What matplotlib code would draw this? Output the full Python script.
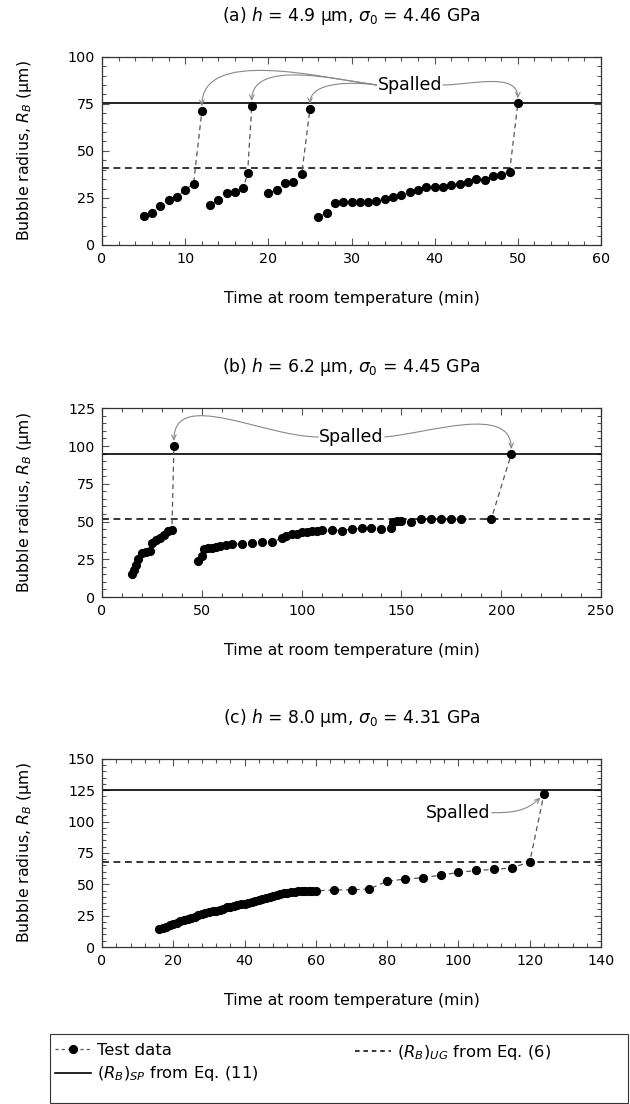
import matplotlib
matplotlib.use('Agg')
import matplotlib.pyplot as plt
import numpy as np
from matplotlib.path import Path
from matplotlib.patches import FancyArrowPatch, Rectangle
from matplotlib.lines import Line2D

plt.rcParams['font.family'] = ['DejaVu Sans']
plt.rcParams['mathtext.fontset'] = 'dejavusans'
plt.rcParams['font.size'] = 11.5

# (a) h = 4.9 um : four growth runs, the last point of each run is the spalled bubble
a_t1 = [5, 6, 7, 8, 9, 10, 11, 12]
a_r1 = [15.4, 17.2, 20.9, 23.9, 25.7, 29.2, 32.6, 71.0]
a_t2 = [13, 14, 15, 16, 17, 17.5, 18]
a_r2 = [21.4, 23.9, 27.6, 28.1, 30.4, 38.1, 73.8]
a_t3 = [20, 21, 22, 23, 24, 25]
a_r3 = [27.6, 29.4, 33.1, 33.6, 37.5, 72.2]
a_t4 = [26, 27, 28, 29, 30, 31, 32, 33, 34, 35, 36, 37, 38, 39, 40, 41, 42, 43,
        44, 45, 46, 47, 48, 49, 50]
a_r4 = [15.1, 16.8, 22.2, 22.7, 22.7, 22.7, 22.8, 23.6, 24.3, 25.6, 26.8, 28.0,
        29.0, 30.6, 30.8, 31.0, 31.6, 32.4, 33.6, 34.9, 34.5, 36.6, 37.2, 38.8, 75.2]
a_sp = 75.5
a_ug = 41.0

# (b) h = 6.2 um
b_t1 = [15, 16, 17, 18, 20, 22, 24, 25, 27, 29, 31, 33, 35, 36]
b_r1 = [15, 18, 21, 25.5, 29, 30, 30.5, 35.5, 37.5, 38.8, 41, 43.5, 44.3, 100]
b_t2 = [48, 50, 51, 53, 55, 57, 59, 62, 65, 70, 75, 80, 85, 90, 92, 95, 97.5, 100,
        102.5, 105, 107.5, 110, 115, 120, 125, 130, 135, 140, 145, 146, 148, 150,
        155, 160, 165, 170, 175, 180, 195, 205]
b_r2 = [24, 27, 32, 32.3, 32.7, 33.3, 34, 34.3, 34.8, 35.2, 35.9, 36.2, 36.6, 38.8,
        40.6, 41.7, 42, 42.8, 43.2, 43.7, 43.9, 44.1, 44.3, 44, 45, 45.4, 45.8, 45,
        45.4, 49.8, 50.5, 50.5, 50, 51.6, 51.6, 51.6, 51.6, 51.6, 51.6, 94.6]
b_sp = 95.0
b_ug = 51.6

# (c) h = 8.0 um
c_t1 = [16, 17, 18, 19, 20, 21, 22, 23, 24, 25, 26, 27, 28, 29, 30, 31, 32, 33, 34,
        35, 36, 37, 38, 39, 40, 41, 42, 43, 44, 45, 46, 47, 48, 49, 50, 51, 52, 53,
        54, 55, 56, 57, 58, 59, 60, 65, 70, 75, 80, 85, 90, 95, 100, 105, 110, 115,
        120, 124]
c_r1 = [14, 15, 16, 17.5, 18.5, 19.5, 20.5, 21.5, 22.5, 23.5, 24.3, 25.2, 26.5, 27,
        27.8, 28.3, 29, 29.6, 30.5, 31.5, 32, 32.6, 33.2, 34, 34.5, 35, 35.8, 36.5,
        37.2, 38, 39, 40, 40.6, 41.2, 42, 42.8, 43.2, 43.6, 44, 44.3, 44.5, 44.5,
        44.6, 44.6, 44.7, 45.5, 45.5, 46.3, 52.5, 54.1, 55.2, 57.3, 59.4, 61, 61.8,
        63.1, 67.8, 122]
c_sp = 125.3
c_ug = 67.6

fig = plt.figure(figsize=(6.3, 11.04), dpi=100)


def panel(pos, runs, sp, ug, xlim, xticks, xminor, ylim, yticks, yminor, title):
    ax = fig.add_axes(pos)
    ax.axhline(sp, color='black', lw=1.2, zorder=2)
    ax.axhline(ug, color='black', lw=1.1, dashes=(4.5, 3), zorder=2)
    for t, r in runs:
        ax.plot(t, r, color='#555555', lw=0.9, dashes=(4, 3), marker='o', ms=5.6,
                mfc='black', mec='black', zorder=3)
    ax.set_xlim(xlim)
    ax.set_ylim(ylim)
    ax.set_xticks(xticks)
    ax.set_xticks(np.arange(xlim[0], xlim[1] + 0.01, xminor), minor=True)
    ax.set_yticks(yticks)
    ax.set_yticks(np.arange(ylim[0], ylim[1] + 0.01, yminor), minor=True)
    ax.tick_params(which='both', direction='in', top=True, right=True,
                   color='#555555', width=0.8, labelsize=10.3, pad=5)
    ax.tick_params(which='major', length=5)
    ax.tick_params(which='minor', length=2.6)
    for s in ax.spines.values():
        s.set_color('#333333')
        s.set_linewidth(0.9)
    ax.set_xlabel('Time at room temperature (min)', fontsize=11.3)
    ax.set_ylabel('Bubble radius, $R_B$ (µm)', fontsize=11.3)
    ax.xaxis.set_label_coords(0.5, -0.245)
    ax.yaxis.set_label_coords(-0.137, 0.5)
    ax.set_title(title, pad=26, fontsize=12.3)
    return ax


ax_a = panel([0.162, 0.7781, 0.792, 0.1705],
             [(a_t1, a_r1), (a_t2, a_r2), (a_t3, a_r3), (a_t4, a_r4)], a_sp, a_ug,
             (0, 60), np.arange(0, 61, 10), 2, (0, 100), np.arange(0, 101, 25), 5,
             r'(a) $h$ = 4.9 µm, $\sigma_0$ = 4.46 GPa')
ax_b = panel([0.162, 0.4592, 0.792, 0.1710],
             [(b_t1, b_r1), (b_t2, b_r2)], b_sp, b_ug,
             (0, 250), np.arange(0, 251, 50), 10, (0, 125), np.arange(0, 126, 25), 5,
             r'(b) $h$ = 6.2 µm, $\sigma_0$ = 4.45 GPa')
ax_c = panel([0.162, 0.1422, 0.792, 0.1705],
             [(c_t1, c_r1)], c_sp, c_ug,
             (0, 140), np.arange(0, 141, 20), 4, (0, 150), np.arange(0, 151, 25), 5,
             r'(c) $h$ = 8.0 µm, $\sigma_0$ = 4.31 GPa')

txt_a = ax_a.text(37, 85, 'Spalled', ha='center', va='center', fontsize=12.5)
txt_b = ax_b.text(125, 106, 'Spalled', ha='center', va='center', fontsize=12.5)
txt_c = ax_c.text(100, 107, 'Spalled', ha='center', va='center', fontsize=12.5)

fig.canvas.draw()


def curved_arrow(ax, txt, side, target, out_deg, in_deg, loose=1.0, gap=5):
    # tikz-like "to[out=.., in=..]" curve from the text edge to a marker
    bb = txt.get_window_extent()
    y0 = bb.y0 + 0.5 * bb.height
    p0 = np.array([bb.x0 - 1, y0]) if side == 'left' else np.array([bb.x1 + 1, y0])
    din = np.array([np.cos(np.radians(in_deg)), np.sin(np.radians(in_deg))])
    dout = np.array([np.cos(np.radians(out_deg)), np.sin(np.radians(out_deg))])
    p3 = ax.transData.transform(target) + gap * din
    L = 0.3915 * loose * np.hypot(*(p3 - p0))
    pts = np.array([p0, p0 + L * dout, p3 + L * din, p3])
    verts = ax.transData.inverted().transform(pts)
    path = Path(verts, [Path.MOVETO, Path.CURVE4, Path.CURVE4, Path.CURVE4])
    ax.add_patch(FancyArrowPatch(path=path, arrowstyle='->,head_length=3.5,head_width=1.6',
                                 color='#888888', lw=0.8, transform=ax.transData,
                                 zorder=4))


curved_arrow(ax_a, txt_a, 'left', (a_t1[-1], a_r1[-1]), 172, 90, 0.85)
curved_arrow(ax_a, txt_a, 'left', (a_t2[-1], a_r2[-1]), 172, 90, 0.85)
curved_arrow(ax_a, txt_a, 'left', (a_t3[-1], a_r3[-1]), 172, 90, 0.85)
curved_arrow(ax_a, txt_a, 'right', (a_t4[-1], a_r4[-1]), 0, 90, 0.9)
curved_arrow(ax_b, txt_b, 'left', (b_t1[-1], b_r1[-1]), 180, 90, 0.95)
curved_arrow(ax_b, txt_b, 'right', (b_t2[-1], b_r2[-1]), 5, 90, 0.9)
curved_arrow(ax_c, txt_c, 'right', (c_t1[-1], c_r1[-1]), 0, 225, 1.0)

# legend: frame drawn by hand, two columns placed like the reference
h_data = Line2D([], [], color='#555555', lw=0.9, dashes=(2.5, 2.5), marker='o',
                ms=5.6, mfc='black', mec='black')
h_sp = Line2D([], [], color='black', lw=1.2)
h_ug = Line2D([], [], color='black', lw=1.1, dashes=(3, 2.5))
leg_kw = dict(loc='upper left', frameon=False, fontsize=11.8, handlelength=2.2,
              handletextpad=0.4, labelspacing=0.4, borderpad=0, borderaxespad=0)
fig.legend([h_data, h_sp], ['Test data', '$(R_B)_{SP}$ from Eq. (11)'],
           bbox_to_anchor=(0.087, 0.0555), **leg_kw)
fig.legend([h_ug], ['$(R_B)_{UG}$ from Eq. (6)'],
           bbox_to_anchor=(0.563, 0.0555), **leg_kw)
fig.patches.append(Rectangle((0.0794, 0.001), 0.917, 0.0625, transform=fig.transFigure,
                             fill=False, ec='#333333', lw=0.8))

fig.savefig('out.png', dpi=100)
